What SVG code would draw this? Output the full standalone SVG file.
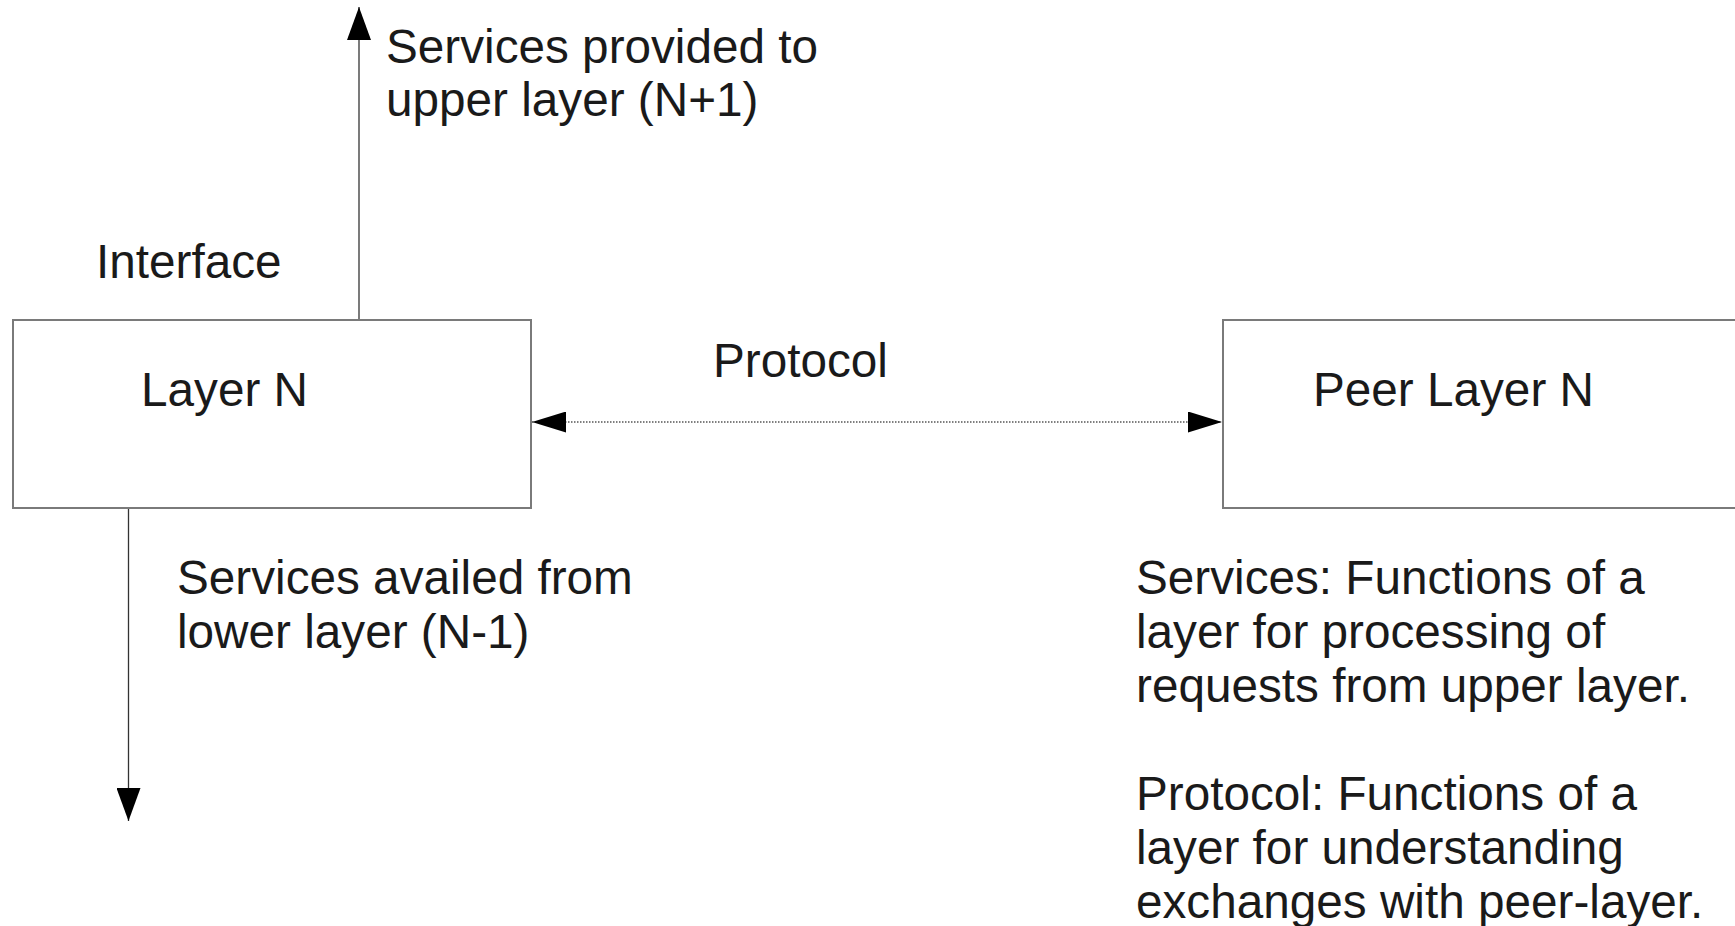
<svg xmlns="http://www.w3.org/2000/svg" width="1735" height="926" viewBox="0 0 1735 926">
<style>
.box{fill:#fff;stroke:#7a7a7a;stroke-width:2}
.t{font-family:"Liberation Sans",Arial,sans-serif;font-size:47.7px;fill:#1a1a1a}
.ln{stroke:#333;stroke-width:1.3;fill:none}
.dot{stroke:#555;stroke-width:1.4;stroke-dasharray:1.5 1.5;fill:none}
</style>
<defs>
<marker id="ah" viewBox="0 0 33 24" refX="33" refY="12" markerWidth="33" markerHeight="24" markerUnits="userSpaceOnUse" orient="auto-start-reverse">
<path d="M0,0 L33,12 L0,24 Z" fill="#000"/>
</marker>
<marker id="ah2" viewBox="0 0 34 21" refX="34" refY="10.5" markerWidth="34" markerHeight="21" markerUnits="userSpaceOnUse" orient="auto-start-reverse">
<path d="M0,0 L34,10.5 L0,21 Z" fill="#000"/>
</marker>
</defs>
<rect width="1735" height="926" fill="#fff"/>
<g id="connectors">
<line class="ln" x1="359" y1="320" x2="359" y2="7" marker-end="url(#ah)"/>
<line class="ln" x1="128.5" y1="508" x2="128.5" y2="821" marker-end="url(#ah)"/>
<line class="dot" x1="532" y1="422" x2="1222" y2="422" marker-start="url(#ah2)" marker-end="url(#ah2)"/>
</g>
<g id="layerN">
<rect class="box" x="13" y="320" width="518" height="188"/>
<text class="t" x="141" y="406">Layer N</text>
</g>
<g id="peerLayerN">
<rect class="box" x="1223" y="320" width="540" height="188"/>
<text class="t" x="1313" y="406">Peer Layer N</text>
</g>
<g id="labels">
<text class="t" x="96" y="278">Interface</text>
<text class="t" x="386" y="63">Services provided to</text>
<text class="t" x="386" y="116">upper layer (N+1)</text>
<text class="t" x="713" y="377">Protocol</text>
<text class="t" x="177" y="594">Services availed from</text>
<text class="t" x="177" y="648">lower layer (N-1)</text>
<text class="t" x="1136" y="594">Services: Functions of a</text>
<text class="t" x="1136" y="648">layer for processing of</text>
<text class="t" x="1136" y="702">requests from upper layer.</text>
<text class="t" x="1136" y="810">Protocol: Functions of a</text>
<text class="t" x="1136" y="864">layer for understanding</text>
<text class="t" x="1136" y="918">exchanges with peer-layer.</text>
</g>
</svg>
